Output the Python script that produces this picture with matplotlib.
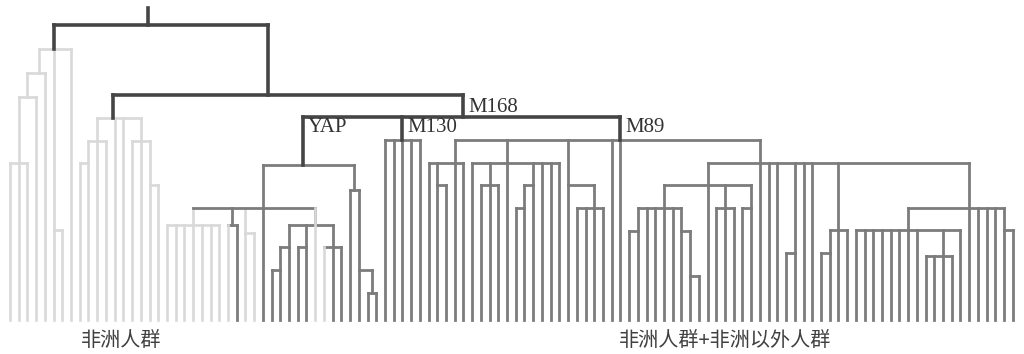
import matplotlib
matplotlib.use("Agg")
import matplotlib.pyplot as plt

# ---------------- data ----------------
# internal nodes of the tree
node_names = ["root", "n95", "M168", "YAP", "M130", "M89",
              "A0", "A1", "A2", "A3", "A4",
              "B0", "B1", "B2", "B3", "B4",
              "Y1", "C0", "C1", "C2", "S0", "S1", "S2", "S3", "S4", "Y2", "Y3", "Y4",
              "MA", "MA1", "MB", "MB1", "MB2", "MB3", "MC", "MC1",
              "MD", "MD1", "MD2", "MD2a", "MD2b", "MD2c", "MD3", "MD4", "MD5",
              "MD6", "MD7", "MD8", "MD9", "MD10", "MD11"]
node_parent = [None, "root", "n95", "M168", "M168", "M168",
               "root", "A0", "A1", "A2", "A0",
               "n95", "B0", "B1", "B0", "B3",
               "YAP", "Y1", "Y1", "Y1", "Y1", "S0", "S1", "S0", "S0", "YAP", "Y2", "Y3",
               "M89", "MA", "M89", "MB", "MB", "MB2", "M89", "MC",
               "M89", "MD", "MD1", "MD2", "MD2", "MD2b", "MD1", "MD1", "MD",
               "MD", "MD6", "MD", "MD8", "MD9", "MD8"]
node_height = [295, 225, 203, 155, 180, 180,
               271, 247, 223, 157, 90,
               202, 179, 157, 179, 135,
               112, 95, 95, 87, 95, 73, 50, 73, 73, 130, 50, 27,
               157, 135, 157, 135, 135, 112, 135, 112,
               157, 135, 112, 89, 89, 44, 112, 112, 67,
               90, 67, 112, 90, 64, 90]
# leaf (in leaf-slot units) on which each node's stem is drawn
node_anchor = [15.8, 29.6, 52, 33.6, 45, 70,
               5, 3.3, 1.95, 1, 5,
               11.8, 10, 9, 15, 16,
               29, 21, 25.5, 27, 35, 32, 31, 34, 37, 39.5, 40, 41.5,
               51, 49, 57, 55, 60, 59, 64, 67,
               86, 80, 75, 72, 77, 78, 82, 85, 90,
               95, 94, 110, 103, 107, 114]
node_tone = ["dark", "dark", "dark", "mid", "mid", "mid",
             "light", "light", "light", "light", "light",
             "light", "light", "light", "light", "light",
             "mid", "light", "mid", "light", "mid", "mid", "mid", "mid", "mid", "mid", "mid", "mid",
             "mid", "mid", "mid", "mid", "mid", "mid", "mid", "mid",
             "mid", "mid", "mid", "mid", "mid", "mid", "mid", "mid", "mid",
             "mid", "mid", "mid", "mid", "mid", "mid"]
root_top = 312

# parent node of every leaf (116 leaves, left to right)
leaf_parent = (["A3"] * 3 + ["A2", "A1"] + ["A4"] * 2 + ["A0"]
               + ["B2"] * 2 + ["B1"] * 2 + ["B0"] * 2 + ["B3"] * 2 + ["B4"] * 2
               + ["C0"] * 7 + ["C1"] * 2 + ["C2"] * 2 + ["Y1"]
               + ["S2"] * 2 + ["S1"] + ["S3"] * 2 + ["Y1"] + ["S4"] * 3
               + ["Y2", "Y3"] + ["Y4"] * 2
               + ["M130"] * 5
               + ["MA"] + ["MA1"] * 2 + ["MA"] * 2
               + ["MB"] + ["MB1"] * 3 + ["MB"] + ["MB3"] * 2 + ["MB2"] + ["MB"] * 3
               + ["MC"] + ["MC1"] * 4 + ["M89"] * 2
               + ["MD2a"] * 2 + ["MD2"] * 4 + ["MD2b"] + ["MD2c"] * 2 + ["MD1"]
               + ["MD3"] * 3 + ["MD4"] * 2 + ["MD"] * 3 + ["MD5"] * 2 + ["MD"] * 2
               + ["MD7"] * 2 + ["MD6"] * 2 + ["MD9"] * 8 + ["MD10"] * 4 + ["MD9"]
               + ["MD8"] * 4 + ["MD11"] * 2)
leaf_tone_override = {25: "light", 35: "light", 36: "light"}

labels = ["YAP", "M130", "M89"]
top_label = "M168"
group_labels = ["非洲人群", "非洲人群+非洲以外人群"]
group_label_x = [12.7, 82.0]

# ---------------- style ----------------
tones = {"dark": "#454545", "mid": "#7c7c7c", "light": "#d9d9d9"}
widths = {"dark": 2.6, "mid": 2.0, "light": 1.9}
zord = {"dark": 4, "mid": 3, "light": 2}

fig = plt.figure(figsize=(10.24, 3.54), dpi=100)
ax = fig.add_axes([0, 0, 1, 1])
ax.set_xlim(-10 / 8.72, 1014 / 8.72)
ax.set_ylim(-34, 320)
ax.axis("off")

idx = {n: i for i, n in enumerate(node_names)}
backbone = {n for n, t in zip(node_names, node_tone) if t == "dark"}


def seg(xs, ys, tone, z=None):
    ax.plot(xs, ys, color=tones[tone], lw=widths[tone],
            solid_capstyle="projecting", zorder=zord[tone] if z is None else z)


# children anchors for horizontals
children_x = {n: [] for n in node_names}
for n, p in zip(node_names, node_parent):
    if p is not None:
        children_x[p].append(node_anchor[idx[n]])
for i, p in enumerate(leaf_parent):
    children_x[p].append(i)

for k, n in enumerate(node_names):
    ax_x = node_anchor[k]
    h = node_height[k]
    tone = node_tone[k]
    xs = children_x[n] + [ax_x]
    seg([min(xs), max(xs)], [h, h], tone)
    p = node_parent[k]
    if p is None:
        seg([ax_x, ax_x], [h, root_top], "dark")
    else:
        vt = "dark" if p in backbone else tone
        seg([ax_x, ax_x], [node_height[idx[p]], h], vt)

for i, p in enumerate(leaf_parent):
    tone = leaf_tone_override.get(i, node_tone[idx[p]])
    z = 3.5 if i in leaf_tone_override else None
    seg([i, i], [node_height[idx[p]], 0], tone, z)

# clade labels: just below their parent's bar, right of their stem
serif = dict(family="Liberation Serif", fontsize=15, color="#333333")
for lab in labels:
    k = idx[lab]
    ph = node_height[idx[node_parent[k]]]
    ax.text(node_anchor[k] + 0.55, ph - 15, lab, ha="left",
            va="baseline", zorder=6, **serif)
k = idx[top_label]
ax.text(node_anchor[k] + 0.55, node_height[k] + 5, top_label, ha="left",
        va="baseline", zorder=6, **serif)

for lab, gx in zip(group_labels, group_label_x):
    ax.text(gx, -20, lab, ha="center", va="center", fontsize=14.5,
            color="#404040", fontweight="light",
            family=["Noto Sans CJK SC", "DejaVu Sans"])

fig.savefig("out.png", dpi=100, facecolor="white")
